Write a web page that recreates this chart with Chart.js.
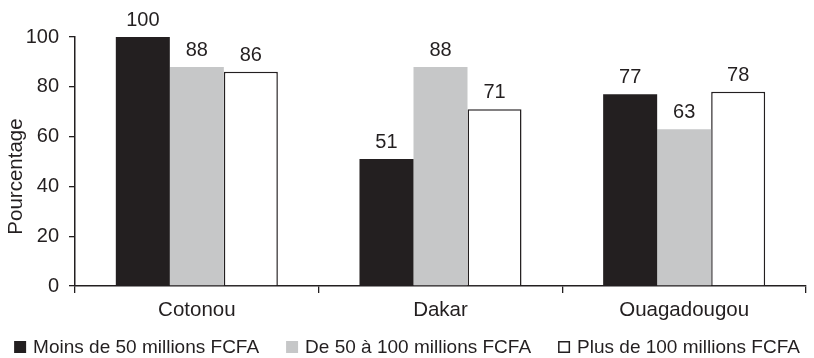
<!DOCTYPE html>
<html>
<head>
<meta charset="utf-8">
<script src="https://cdn.jsdelivr.net/npm/chart.js@4/dist/chart.umd.min.js"></script>
<style>
  html, body { margin: 0; padding: 0; background: #ffffff; }
  #wrap { position: relative; width: 814px; height: 358px; }
</style>
</head>
<body>
<div id="wrap"><canvas id="chart" width="814" height="358"></canvas></div>
<script>
// Villes étudiées
const villes = ['Cotonou', 'Dakar', 'Ouagadougou'];

// Pourcentage par tranche de chiffre d'affaires
const moinsDe50 = [100, 51, 77];
const de50a100 = [88, 88, 63];
const plusDe100 = [86, 71, 78];

const seriesNames = [
  'Moins de 50 millions FCFA',
  'De 50 à 100 millions FCFA',
  'Plus de 100 millions FCFA'
];

const yTicks = [0, 20, 40, 60, 80, 100];
const yTitle = 'Pourcentage';

const INK = '#231f20';
const GREY = '#c6c7c8';
const FONT = 'Arial, "Liberation Sans", Helvetica, sans-serif';

// Writes each bar's value just above it
const valueLabels = {
  id: 'valueLabels',
  afterDatasetsDraw(chart) {
    const ctx = chart.ctx;
    ctx.save();
    ctx.font = '20px ' + FONT;
    ctx.fillStyle = INK;
    ctx.textAlign = 'center';
    ctx.textBaseline = 'alphabetic';
    chart.data.datasets.forEach((ds, i) => {
      const meta = chart.getDatasetMeta(i);
      meta.data.forEach((bar, j) => {
        ctx.fillText(String(ds.data[j]), bar.x, bar.y - 11);
      });
    });
    ctx.restore();
  }
};

// Vertical axis title, set a little below the middle of the plot
const axisTitle = {
  id: 'axisTitle',
  afterDraw(chart) {
    const ctx = chart.ctx;
    const a = chart.chartArea;
    ctx.save();
    ctx.font = '20.5px ' + FONT;
    ctx.fillStyle = INK;
    ctx.textAlign = 'center';
    ctx.textBaseline = 'middle';
    ctx.translate(16, (a.top + a.bottom) / 2 + 15);
    ctx.rotate(-Math.PI / 2);
    ctx.fillText(yTitle, 0, 0);
    ctx.restore();
  }
};

// Single-row legend along the bottom edge
const bottomLegend = {
  id: 'bottomLegend',
  afterDraw(chart) {
    const ctx = chart.ctx;
    const box = 12, gap = 7, itemGap = 27, size = 19;
    ctx.save();
    ctx.font = size + 'px ' + FONT;
    ctx.textBaseline = 'middle';
    ctx.textAlign = 'left';
    const items = chart.data.datasets.map(ds => ({
      ds, w: box + gap + ctx.measureText(ds.label).width
    }));
    const total = items.reduce((s, it) => s + it.w, 0) + itemGap * (items.length - 1);
    let x = (chart.width - total) / 2;
    const cy = chart.height - 11;
    items.forEach(it => {
      ctx.fillStyle = it.ds.backgroundColor;
      ctx.fillRect(x, cy - box / 2, box, box);
      if (it.ds.borderWidth) {
        ctx.strokeStyle = it.ds.borderColor;
        ctx.lineWidth = 1.5;
        ctx.strokeRect(x + 0.75, cy - box / 2 + 0.75, box - 1.5, box - 1.5);
      }
      ctx.fillStyle = INK;
      ctx.fillText(it.ds.label, x + box + gap, cy + 1);
      x += it.w + itemGap;
    });
    ctx.restore();
  }
};

const X_AXIS_H = 40;

new Chart(document.getElementById('chart'), {
  type: 'bar',
  data: {
    labels: villes,
    datasets: [
      { label: seriesNames[0], data: moinsDe50, backgroundColor: INK, borderColor: INK, borderWidth: 0 },
      { label: seriesNames[1], data: de50a100, backgroundColor: GREY, borderColor: GREY, borderWidth: 0 },
      { label: seriesNames[2], data: plusDe100, backgroundColor: '#ffffff', borderColor: INK, borderWidth: 1.5 }
    ]
  },
  options: {
    responsive: false,
    animation: false,
    layout: { padding: { top: 37, right: 8, left: 0, bottom: 358 - 286 - X_AXIS_H } },
    datasets: {
      bar: { categoryPercentage: 0.665, barPercentage: 1.0 }
    },
    plugins: {
      tooltip: { enabled: false },
      legend: { display: false }
    },
    scales: {
      x: {
        grid: {
          display: true,
          offset: true,
          drawOnChartArea: false,
          drawTicks: true,
          tickLength: 7,
          color: INK,
          lineWidth: 1.3
        },
        border: { display: true, color: INK, width: 1.5 },
        ticks: {
          color: INK,
          padding: 5,
          font: { family: FONT, size: 20.5 }
        },
        afterFit(scale) { scale.height = X_AXIS_H; }
      },
      y: {
        min: 0,
        max: 100,
        afterBuildTicks(scale) { scale.ticks = yTicks.map(v => ({ value: v })); },
        grid: {
          display: true,
          drawOnChartArea: false,
          drawTicks: true,
          tickLength: 6,
          color: INK,
          lineWidth: 1.3
        },
        border: { display: true, color: INK, width: 1.5 },
        ticks: {
          color: INK,
          padding: 10,
          font: { family: FONT, size: 20 }
        },
        afterFit(scale) { scale.width = 75; }
      }
    }
  },
  plugins: [valueLabels, axisTitle, bottomLegend]
});
</script>
</body>
</html>
